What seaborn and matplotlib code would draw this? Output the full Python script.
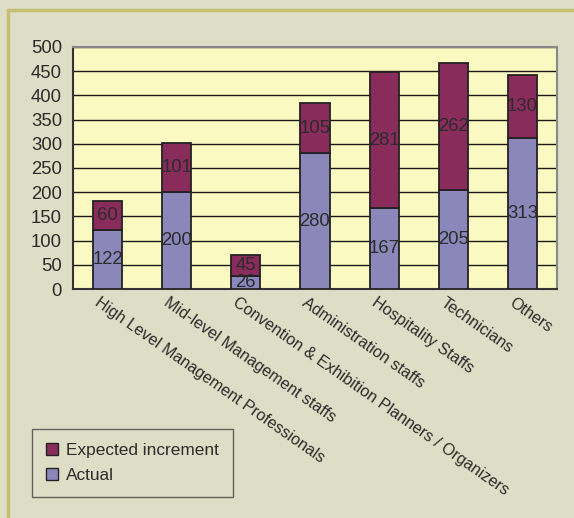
import matplotlib
matplotlib.use("Agg")
import matplotlib.pyplot as plt
import matplotlib.transforms as mtransforms
import seaborn as sns
import pandas as pd
import numpy as np
from matplotlib.patches import Rectangle, Patch

categories = ["High Level Management Professionals", "Mid-level Management staffs",
              "Convention & Exhibition Planners / Organizers", "Administration staffs",
              "Hospitality Staffs", "Technicians", "Others"]
actual = [122, 200, 26, 280, 167, 205, 313]
expected = [60, 101, 45, 105, 281, 262, 130]
yticks = [0, 50, 100, 150, 200, 250, 300, 350, 400, 450, 500]

sns.set_theme(style="white")
plt.rcParams['font.family'] = ['Liberation Sans', 'DejaVu Sans']

C_ACT = "#8B87BA"
C_EXP = "#892C5B"
FIG_BG = "#DEDDC6"
PLOT_BG = "#FAF9C1"
TXT = "#2B2B2B"

df = pd.DataFrame({"cat": categories, "actual": actual, "expected": expected})

fig = plt.figure(figsize=(5.74, 5.18), dpi=100, facecolor=FIG_BG)
ax = fig.add_axes([73/574, 1-289/518, (557-73)/574, (289-47)/518])
ax.set_facecolor(PLOT_BG)

sns.barplot(data=df, x="cat", y="actual", color=C_ACT, width=0.42,
            edgecolor="#222222", linewidth=1.3, saturation=1, ax=ax, zorder=3)
sns.barplot(data=df, x="cat", y="expected", bottom=df["actual"], color=C_EXP, width=0.42,
            edgecolor="#222222", linewidth=1.3, saturation=1, ax=ax, zorder=3)

ax.set_ylim(0, 500)
ax.set_xlim(-0.5, len(categories) - 0.5)
ax.set_yticks(yticks)
ax.set_yticklabels([str(v) for v in yticks], fontsize=13.3, color=TXT)
ax.grid(axis="y", color="#1a1a1a", linewidth=1.0, zorder=0)
ax.set_axisbelow(True)
ax.set_xlabel("")
ax.set_ylabel("")

# value labels
for i, (a, e) in enumerate(zip(actual, expected)):
    ax.text(i, a / 2, str(a), ha="center", va="center", fontsize=13.3, color=TXT, zorder=5)
    ax.text(i, a + e / 2, str(e), ha="center", va="center", fontsize=13.3, color=TXT, zorder=5)

# x labels rotated
ax.set_xticks(range(len(categories)))
ax.set_xticklabels([])
ax.tick_params(axis="x", which="major", length=0)
ax.set_xticks(np.arange(0.5, len(categories) - 0.5, 1), minor=True)
ax.tick_params(axis="x", which="minor", direction="in", length=5, color="#555555", width=1)
ax.tick_params(axis="y", which="major", direction="in", length=5, color="#888888", pad=8)
off = mtransforms.ScaledTranslation(-7/100, -6/100, fig.dpi_scale_trans)
for i, c in enumerate(categories):
    ax.text(i, 0, c, rotation=-35, rotation_mode="anchor", ha="left", va="top",
            fontsize=11.6, color=TXT, transform=ax.transData + off, clip_on=False)

for s in ["top", "right"]:
    ax.spines[s].set_color("#888888")
    ax.spines[s].set_linewidth(1.5)
for s in ["left", "bottom"]:
    ax.spines[s].set_color("#333333")
    ax.spines[s].set_linewidth(1.5)

# outer border
fig.patches.append(Rectangle((8/574, -0.1), 1.2, 1 - 10/518 + 0.1, transform=fig.transFigure,
                             fill=False, edgecolor="#C6BE72", linewidth=2.5, zorder=0))

handles = [Patch(facecolor=C_EXP, edgecolor="#222222", label="Expected increment"),
           Patch(facecolor=C_ACT, edgecolor="#222222", label="Actual")]
leg = fig.legend(handles=handles, loc="lower left", bbox_to_anchor=(32/574, 21/518),
                 bbox_transform=fig.transFigure, frameon=True, fontsize=12.4, handlelength=0.7,
                 handleheight=0.7, handletextpad=0.5, borderpad=0.8, labelspacing=0.6,
                 fancybox=False, borderaxespad=0)
leg.get_frame().set_facecolor(FIG_BG)
leg.get_frame().set_edgecolor("#444444")
leg.get_frame().set_linewidth(1.0)
for t in leg.get_texts():
    t.set_color(TXT)

fig.savefig("out.png", dpi=100, facecolor=FIG_BG)
